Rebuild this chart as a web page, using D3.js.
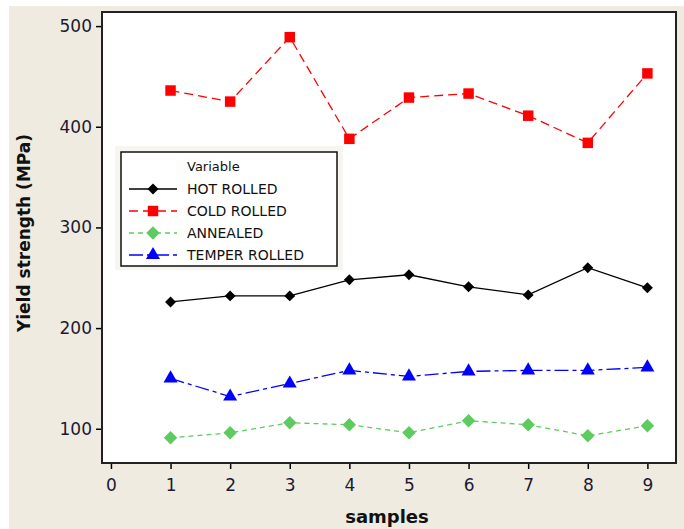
<!DOCTYPE html>
<html>
<head>
<meta charset="utf-8">
<script src="https://cdn.jsdelivr.net/npm/d3@7"></script>
<style>
  body { margin: 0; background: #fff; }
  svg { display: block; }
  .tick text { font-family: Tahoma, "DejaVu Sans", sans-serif; font-size: 17px; fill: #1c1a33; }
</style>
</head>
<body>
<div id="vis"></div>
<script>
// samples 1..9
var samples = [1, 2, 3, 4, 5, 6, 7, 8, 9];
var hotRolled = [226, 232, 232, 248, 253, 241, 233, 260, 240];
var coldRolled = [436, 425, 489, 388, 429, 433, 411, 384, 453];
var annealed = [91, 96, 106, 104, 96, 108, 104, 93, 103];
var temperRolled = [150, 132, 145, 158, 152, 157, 158, 158, 161];
var xTicks = [0, 1, 2, 3, 4, 5, 6, 7, 8, 9];
var yTicks = [100, 200, 300, 400, 500];

// diamond = square turned 45 degrees
var series = [
  {name: "HOT ROLLED", values: hotRolled, color: "#000000", dash: null, symbol: d3.symbolSquare, rot: 45, size: 60},
  {name: "COLD ROLLED", values: coldRolled, color: "#ff0000", dash: "9,5", symbol: d3.symbolSquare, rot: 0, size: 110},
  {name: "ANNEALED", values: annealed, color: "#5ecb5e", dash: "5,4", symbol: d3.symbolSquare, rot: 45, size: 90},
  {name: "TEMPER ROLLED", values: temperRolled, color: "#0000ff", dash: "14,4,4,4", symbol: d3.symbolTriangle, rot: 0, size: 85}
];

var W = 684, H = 529;
var margin = {top: 12, right: 8, bottom: 66, left: 102},
    width = W - margin.left - margin.right,
    height = H - margin.top - margin.bottom;

var svg = d3.select("#vis").append("svg")
    .attr("width", W)
    .attr("height", H);

// beige panel
svg.append("rect")
    .attr("x", 9).attr("y", 6)
    .attr("width", W - 9).attr("height", H - 6)
    .attr("fill", "#efebe0");

var g = svg.append("g")
    .attr("transform", "translate(" + margin.left + "," + margin.top + ")");

var x = d3.scaleLinear().domain([-0.15, 9.48]).range([0, width]);
var y = d3.scaleLinear().domain([66, 514]).range([height, 0]);

g.append("rect")
    .attr("width", width).attr("height", height)
    .attr("fill", "#fff");

g.append("g")
    .attr("class", "axis")
    .attr("transform", "translate(0," + height + ")")
    .call(d3.axisBottom(x).tickValues(xTicks).tickFormat(d3.format("d")).tickSizeInner(6).tickSizeOuter(0).tickPadding(10))
    .call(function (a) { a.select(".domain").remove(); a.selectAll("line").attr("stroke", "#000").attr("stroke-width", 1.5); });

g.append("g")
    .attr("class", "axis")
    .call(d3.axisLeft(y).tickValues(yTicks).tickSizeInner(6).tickSizeOuter(0).tickPadding(4))
    .call(function (a) { a.select(".domain").remove(); a.selectAll("line").attr("stroke", "#000").attr("stroke-width", 1.5); });

// frame
g.append("rect")
    .attr("width", width).attr("height", height)
    .attr("fill", "none")
    .attr("stroke", "#222")
    .attr("stroke-width", 2);

var line = d3.line()
    .x(function (d, i) { return x(samples[i]); })
    .y(function (d) { return y(d); });

series.forEach(function (s) {
  g.append("path")
      .datum(s.values)
      .attr("fill", "none")
      .attr("stroke", s.color)
      .attr("stroke-width", 1.3)
      .attr("stroke-dasharray", s.dash)
      .attr("d", line);

  g.selectAll(null)
      .data(s.values)
      .enter().append("path")
      .attr("transform", function (d, i) { return "translate(" + x(samples[i]) + "," + y(d) + ") rotate(" + s.rot + ")"; })
      .attr("d", d3.symbol().type(s.symbol).size(s.size))
      .attr("fill", s.color);
});

// legend
var leg = svg.append("g").attr("transform", "translate(121,152)");
leg.append("rect")
    .attr("x", -6).attr("y", -6).attr("width", 228).attr("height", 124)
    .attr("fill", "#f7f5ef");
leg.append("rect")
    .attr("width", 216).attr("height", 114)
    .attr("fill", "#fff")
    .attr("stroke", "#111")
    .attr("stroke-width", 1.5);
leg.append("text")
    .attr("x", 66).attr("y", 19)
    .attr("font-family", "Tahoma, 'DejaVu Sans', sans-serif")
    .attr("font-size", 13)
    .attr("fill", "#111")
    .text("Variable");

series.forEach(function (s, i) {
  var ly = 37 + i * 22;
  leg.append("line")
      .attr("x1", 8).attr("x2", 56)
      .attr("y1", ly).attr("y2", ly)
      .attr("stroke", s.color)
      .attr("stroke-width", 1.3)
      .attr("stroke-dasharray", s.dash);
  leg.append("path")
      .attr("transform", "translate(32," + ly + ") rotate(" + s.rot + ")")
      .attr("d", d3.symbol().type(s.symbol).size(s.size))
      .attr("fill", s.color);
  leg.append("text")
      .attr("x", 66).attr("y", ly)
      .attr("dy", "0.35em")
      .attr("font-family", "Tahoma, 'DejaVu Sans', sans-serif")
      .attr("font-size", 14)
      .attr("fill", "#111")
      .text(s.name);
});

// axis titles
svg.append("text")
    .attr("transform", "translate(30," + 233 + ") rotate(-90)")
    .attr("text-anchor", "middle")
    .attr("font-family", "Tahoma, 'DejaVu Sans', sans-serif")
    .attr("font-weight", "bold")
    .attr("font-size", 17)
    .attr("fill", "#111")
    .text("Yield strength  (MPa)");

svg.append("text")
    .attr("x", 387).attr("y", 523)
    .attr("text-anchor", "middle")
    .attr("font-family", "Tahoma, 'DejaVu Sans', sans-serif")
    .attr("font-weight", "bold")
    .attr("font-size", 18)
    .attr("fill", "#111")
    .text("samples");
</script>
</body>
</html>
